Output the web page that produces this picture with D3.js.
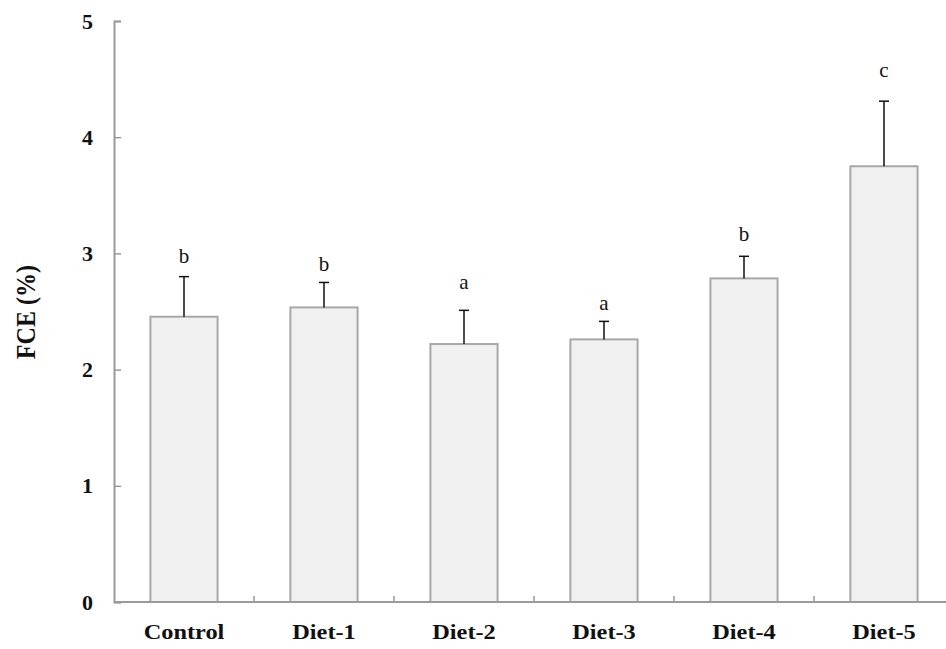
<!DOCTYPE html>
<html>
<head>
<meta charset="utf-8">
<script src="https://cdn.jsdelivr.net/npm/d3@7"></script>
<style>
  html, body { margin: 0; padding: 0; background: #fff; }
  svg { display: block; }
</style>
</head>
<body>
<svg id="chart" width="946" height="649"></svg>
<script>
// Feed conversion efficiency by diet group
const categories = ["Control", "Diet-1", "Diet-2", "Diet-3", "Diet-4", "Diet-5"];
const means      = [2.455, 2.535, 2.22, 2.26, 2.785, 3.75];
const errors     = [0.345, 0.215, 0.29, 0.155, 0.19, 0.56];
const letters    = ["b", "b", "a", "a", "b", "c"];
const letterAt   = [2.92, 2.85, 2.69, 2.51, 3.11, 4.52];
const yTicks     = [0, 1, 2, 3, 4, 5];

const svg = d3.select("#chart");
const serif = "'Liberation Serif', 'Times New Roman', serif";

const x = d3.scaleBand()
  .domain(categories)
  .range([114, 954])
  .paddingInner(0.52)
  .paddingOuter(0.26);

const y = d3.scaleLinear().domain([0, 5]).range([602, 21]);

// bars
svg.append("g").selectAll("rect")
  .data(categories)
  .join("rect")
  .attr("x", d => x(d))
  .attr("y", (d, i) => y(means[i]))
  .attr("width", x.bandwidth())
  .attr("height", (d, i) => y(0) - y(means[i]))
  .attr("fill", "#f1f1f1")
  .attr("stroke", "#a8a8a8")
  .attr("stroke-width", 2);

// upper error bars
const eb = svg.append("g").attr("stroke", "#111").attr("stroke-width", 1.5);
categories.forEach((c, i) => {
  const cx = x(c) + x.bandwidth() / 2;
  eb.append("line")
    .attr("x1", cx).attr("x2", cx)
    .attr("y1", y(means[i])).attr("y2", y(means[i] + errors[i]));
  eb.append("line")
    .attr("x1", cx - 5).attr("x2", cx + 5)
    .attr("y1", y(means[i] + errors[i])).attr("y2", y(means[i] + errors[i]));
});

// significance letters
svg.append("g").selectAll("text")
  .data(categories)
  .join("text")
  .attr("x", d => x(d) + x.bandwidth() / 2)
  .attr("y", (d, i) => y(letterAt[i]))
  .attr("text-anchor", "middle")
  .attr("font-family", serif)
  .attr("font-size", 21)
  .attr("fill", "#111")
  .text((d, i) => letters[i]);

// y axis
const yAxis = svg.append("g")
  .attr("transform", "translate(114,0)")
  .call(d3.axisRight(y).tickValues(yTicks).tickSize(7).tickFormat(d3.format("d")));
yAxis.select(".domain").attr("stroke", "#9a9a9a").attr("stroke-width", 2);
yAxis.selectAll(".tick line").attr("stroke", "#9a9a9a").attr("stroke-width", 1.5);
yAxis.selectAll(".tick text")
  .attr("x", -21)
  .attr("text-anchor", "end")
  .attr("font-family", serif)
  .attr("font-weight", "bold")
  .attr("font-size", 22)
  .attr("fill", "#111");

// x axis with ticks between categories
const xAxis = svg.append("g")
  .attr("transform", `translate(0,${y(0)})`);
xAxis.append("line")
  .attr("x1", 114).attr("x2", 954)
  .attr("stroke", "#9a9a9a").attr("stroke-width", 2);
xAxis.selectAll("line.sep")
  .data(categories.slice(1))
  .join("line")
  .attr("class", "sep")
  .attr("x1", d => x(d) - x.step() * x.paddingInner() / 2)
  .attr("x2", d => x(d) - x.step() * x.paddingInner() / 2)
  .attr("y1", 0).attr("y2", -6)
  .attr("stroke", "#9a9a9a").attr("stroke-width", 1.5);
xAxis.selectAll("text")
  .data(categories)
  .join("text")
  .attr("transform", d => `translate(${x(d) + x.bandwidth() / 2},37) scale(1.16,1)`)
  .attr("text-anchor", "middle")
  .attr("font-family", serif)
  .attr("font-weight", "bold")
  .attr("font-size", 21)
  .attr("fill", "#111")
  .text(d => d);

// y axis title
svg.append("text")
  .attr("transform", "translate(35,312) rotate(-90) scale(0.86,1)")
  .attr("text-anchor", "middle")
  .attr("font-family", serif)
  .attr("font-weight", "bold")
  .attr("font-size", 28)
  .attr("fill", "#111")
  .text("FCE (%)");
</script>
</body>
</html>
